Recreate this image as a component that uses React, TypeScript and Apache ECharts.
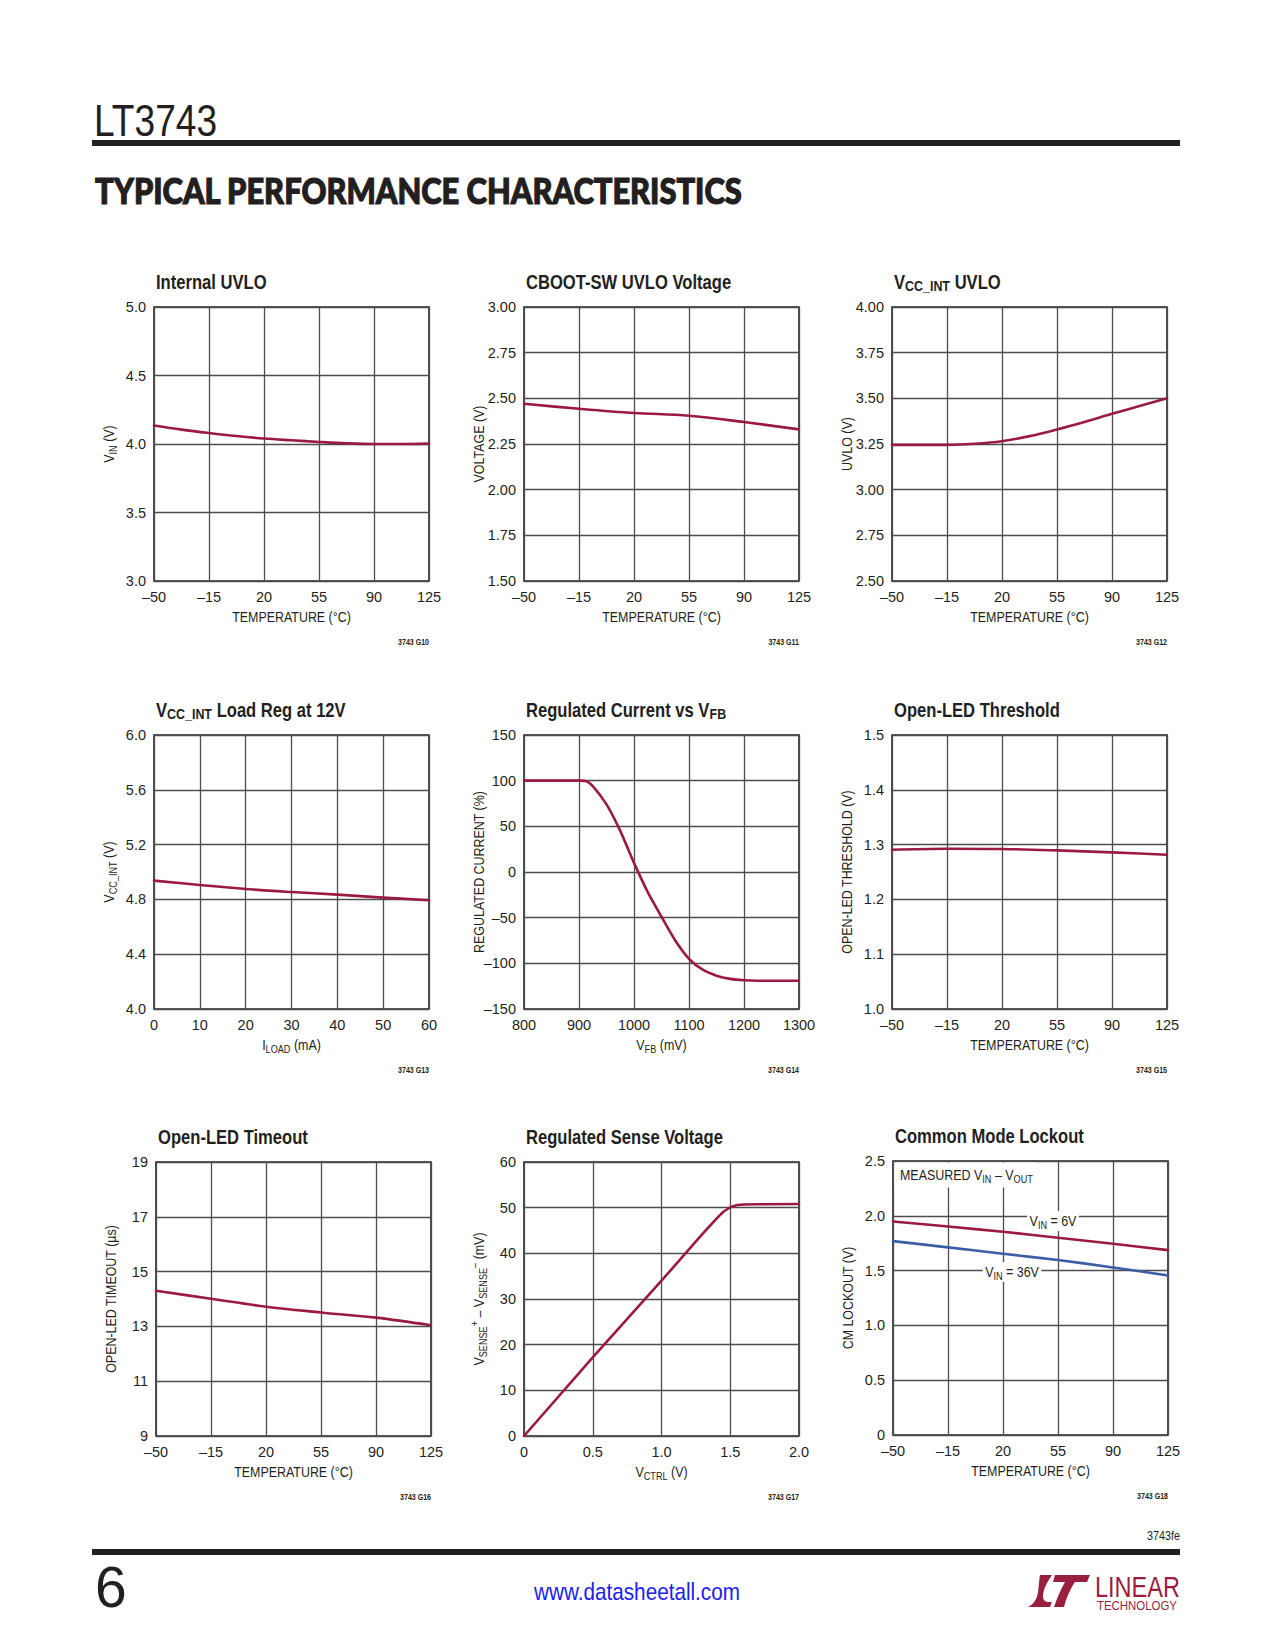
import React, { useEffect, useRef } from 'react';
import * as echarts from 'echarts';

// ---------------- data ----------------
const uvloTemp = [-50, -32.5, -15, 2.5, 20, 37.5, 55, 72.5, 90, 107.5, 125];
const uvloVin = [4.135, 4.105, 4.08, 4.058, 4.04, 4.027, 4.015, 4.005, 4.0, 4.0, 4.003];

const cbootTemp = [-50, -15, 20, 55, 90, 125];
const cbootV = [2.47, 2.443, 2.42, 2.405, 2.37, 2.33];

const vccUvloTemp = [-50, -32.5, -15, 2.5, 20, 37.5, 55, 72.5, 90, 107.5, 125];
const vccUvloV = [3.245, 3.245, 3.245, 3.251, 3.265, 3.293, 3.33, 3.371, 3.415, 3.458, 3.5];

const loadCurrent = [0, 10, 20, 30, 40, 50, 60];
const loadVcc = [4.937, 4.905, 4.876, 4.854, 4.835, 4.813, 4.794];

const vfbMv = [800, 825, 850, 875, 900, 912, 925, 950, 975, 1000, 1025, 1050, 1075, 1100, 1125, 1150, 1175, 1200, 1225, 1250, 1275, 1300];
const regCurrent = [100, 100, 100, 100, 100, 99.6, 94, 74, 45, 10, -22, -49, -75, -95, -107, -113.5, -117, -118.5, -119, -119, -119, -119];

const openLedTemp = [-50, -15, 20, 55, 90, 125];
const openLedThr = [1.2907, 1.2925, 1.292, 1.2894, 1.2858, 1.2816];

const timeoutTemp = [-50, -15, 20, 55, 90, 125];
const timeoutUs = [14.3, 14.01, 13.72, 13.51, 13.32, 13.04];

const vctrl = [0, 0.5, 1.0, 1.3, 1.4, 1.45, 1.5, 1.55, 1.6, 1.7, 2.0];
const vsense = [0, 17.2, 34.0, 44.3, 47.6, 49.1, 50.1, 50.6, 50.7, 50.75, 50.8];

const cmTemp = [-50, -15, 20, 55, 90, 125];
const cmVin6 = [1.948, 1.902, 1.854, 1.8, 1.745, 1.687];
const cmVin36 = [1.769, 1.712, 1.654, 1.596, 1.529, 1.456];

const figIds = ['3743 G10', '3743 G11', '3743 G12', '3743 G13', '3743 G14', '3743 G15', '3743 G16', '3743 G17', '3743 G18'];

// ---------------- style / layout ----------------
const SANS = '"Liberation Sans", Arial, Helvetica, sans-serif';
const COND = 0.83;
const INK = '#231f20';
const RED = '#9b1b3e';
const BLUE = '#3d5da7';
const GRID_COLOR = '#4d4d4d';
const PW = 275;
const PH = 274;
const GRIDS: number[][] = [
  [154, 307], [524, 307], [892, 307],
  [154, 735], [524, 735], [892, 735],
  [156, 1162], [524, 1162], [893, 1161],
];
const TEMP_OFFSET = 50;

const fmtSigned = (n: number) => (n < 0 ? '\u2013' + Math.abs(n) : String(Math.round(n * 1000) / 1000));

const nameRich = {
  a: { fontFamily: SANS, fontSize: 15, fill: INK, color: INK, lineHeight: 20 },
  s: { fontFamily: SANS, fontSize: 11, fill: INK, color: INK, lineHeight: 11, verticalAlign: 'bottom' },
  p: { fontFamily: SANS, fontSize: 11, fill: INK, color: INK, lineHeight: 11, verticalAlign: 'top' },
};

const titleRich = {
  b: { fontFamily: SANS, fontSize: 20, fontWeight: 'bold', fill: INK, color: INK, lineHeight: 24 },
  s: { fontFamily: SANS, fontSize: 15, fontWeight: 'bold', fill: INK, color: INK, lineHeight: 14, verticalAlign: 'bottom' },
};

const titles = [
  '{b|Internal UVLO}',
  '{b|CBOOT-SW UVLO Voltage}',
  '{b|V}{s|CC_INT}{b| UVLO}',
  '{b|V}{s|CC_INT}{b| Load Reg at 12V}',
  '{b|Regulated Current vs V}{s|FB}',
  '{b|Open-LED Threshold}',
  '{b|Open-LED Timeout}',
  '{b|Regulated Sense Voltage}',
  '{b|Common Mode Lockout}',
];

const yNames = [
  '{a|V}{s|IN}{a| (V)}',
  '{a|VOLTAGE (V)}',
  '{a|UVLO (V)}',
  '{a|V}{s|CC_INT}{a| (V)}',
  '{a|REGULATED CURRENT (%)}',
  '{a|OPEN-LED THRESHOLD (V)}',
  '{a|OPEN-LED TIMEOUT (\u00b5s)}',
  '{a|V}{s|SENSE}{p|+}{a| \u2013 V}{s|SENSE}{p|\u2013}{a| (mV)}',
  '{a|CM LOCKOUT (V)}',
];

const TEMP_NAME = '{a|TEMPERATURE (\u00b0C)}';
const xNames = [
  TEMP_NAME, TEMP_NAME, TEMP_NAME,
  '{a|I}{s|LOAD}{a| (mA)}',
  '{a|V}{s|FB}{a| (mV)}',
  TEMP_NAME, TEMP_NAME,
  '{a|V}{s|CTRL}{a| (V)}',
  TEMP_NAME,
];

const tickLabel = { color: INK, fontFamily: SANS, fontSize: 14.5, margin: 8, showMinLabel: true, showMaxLabel: true };

function makeAxis(i: number, cfg: any) {
  return {
    type: 'value',
    gridIndex: i,
    min: cfg.min,
    max: cfg.max,
    interval: cfg.interval,
    axisLine: { show: false },
    axisTick: { show: false },
    splitLine: { show: true, lineStyle: { color: GRID_COLOR, width: 1.3 } },
    axisLabel: { ...tickLabel, formatter: cfg.fmt },
  };
}

const tempAxisCfg = { min: 0, max: 175, interval: 35, fmt: (v: number) => fmtSigned(v - TEMP_OFFSET) };

function line(i: number, xs: number[], ys: number[], color: string, xOff = 0, yOff = 0, extra: any = {}) {
  return {
    type: 'line',
    xAxisIndex: i,
    yAxisIndex: i,
    data: xs.map((x, k) => [x + xOff, ys[k] + yOff]),
    showSymbol: false,
    smooth: 0.35,
    silent: true,
    lineStyle: { color, width: 2.6, join: 'round', cap: 'round' },
    itemStyle: { color },
    ...extra,
  };
}

function measureScale(text: string, font: string, width: number) {
  const ctx = document.createElement('canvas').getContext('2d');
  if (!ctx) return 1;
  ctx.font = font;
  const w = ctx.measureText(text).width;
  return w > 0 ? width / w : 1;
}

const LOGO_D =
  'M12,0 L24,0 C19,7 15,15 15,21 C15,25 17,27 21,27 L24,27 L22,32 L0,32 C6,29 9,24 10,17 C11,10 11,5 12,0 Z ' +
  'M27,0 L62,0 L59,7 L47,7 C42,14 38,24 36,32 L26,32 C29,23 33,14 37,7 L25,7 Z';

let logoRegistered = false;

export default function App() {
  const ref = useRef<HTMLDivElement>(null);

  useEffect(() => {
    if (!ref.current) return;
    if (!logoRegistered) {
      echarts.graphic.registerShape('ltlogo', echarts.graphic.extendPath(LOGO_D, {}) as any);
      logoRegistered = true;
    }
    const chart = echarts.init(ref.current, null, { renderer: 'svg', width: 1275, height: 1650 });

    const xCfgs = [
      tempAxisCfg, tempAxisCfg, tempAxisCfg,
      { min: 0, max: 60, interval: 10, fmt: (v: number) => String(v) },
      { min: 800, max: 1300, interval: 100, fmt: (v: number) => String(v) },
      tempAxisCfg, tempAxisCfg,
      { min: 0, max: 2, interval: 0.5, fmt: (v: number) => (v === 0 ? '0' : v.toFixed(1)) },
      tempAxisCfg,
    ];
    const yCfgs = [
      { min: 3, max: 5, interval: 0.5, fmt: (v: number) => v.toFixed(1) },
      { min: 1.5, max: 3, interval: 0.25, fmt: (v: number) => v.toFixed(2) },
      { min: 2.5, max: 4, interval: 0.25, fmt: (v: number) => v.toFixed(2) },
      { min: 4, max: 6, interval: 0.4, fmt: (v: number) => v.toFixed(1) },
      { min: -150, max: 150, interval: 50, fmt: (v: number) => fmtSigned(v) },
      { min: 1.0, max: 1.5, interval: 0.1, fmt: (v: number) => v.toFixed(1) },
      { min: 0, max: 10, interval: 2, fmt: (v: number) => String(Math.round(v + 9)) },
      { min: 0, max: 60, interval: 10, fmt: (v: number) => String(v) },
      { min: 0, max: 2.5, interval: 0.5, fmt: (v: number) => (v === 0 ? '0' : v.toFixed(1)) },
    ];

    const grid = GRIDS.map(([l, t]) => ({
      left: l, top: t, width: PW, height: PH,
      show: true, borderColor: INK, borderWidth: 1.6, backgroundColor: 'transparent',
      containLabel: false,
    }));

    const series = [
      line(0, uvloTemp, uvloVin, RED, TEMP_OFFSET),
      line(1, cbootTemp, cbootV, RED, TEMP_OFFSET),
      line(2, vccUvloTemp, vccUvloV, RED, TEMP_OFFSET),
      line(3, loadCurrent, loadVcc, RED),
      line(4, vfbMv, regCurrent, RED, 0, 0, { smooth: 0.25 }),
      line(5, openLedTemp, openLedThr, RED, TEMP_OFFSET),
      line(6, timeoutTemp, timeoutUs, RED, TEMP_OFFSET, -9),
      line(7, vctrl, vsense, RED, 0, 0, { smooth: false }),
      line(8, cmTemp, cmVin6, RED, TEMP_OFFSET),
      line(8, cmTemp, cmVin36, BLUE, TEMP_OFFSET),
    ];

    const headTitle = 'TYPICAL PERFORMANCE CHARACTERISTICS';
    const headScale = measureScale(headTitle, '900 37px Lato', 648);
    const ltScale = measureScale('LT3743', '44px "Liberation Sans"', 123);
    const linearScale = measureScale('LINEAR', '30px "Liberation Sans"', 85);
    const techScale = measureScale('TECHNOLOGY', '12px "Liberation Sans"', 80);
    const urlScale = measureScale('www.datasheetall.com', '24px "Liberation Sans"', 206);

    const elements: any[] = [
      // header
      { type: 'text', x: 94, y: 121, scaleX: ltScale, style: { text: 'LT3743', fontFamily: SANS, fontSize: 44, fill: INK, align: 'left', verticalAlign: 'middle' } },
      { type: 'rect', shape: { x: 92, y: 140, width: 1088, height: 6 }, style: { fill: INK } },
      { type: 'text', x: 95, y: 189, scaleX: headScale, style: { text: headTitle, fontFamily: 'Lato', fontWeight: 900, fontSize: 37, fill: INK, stroke: INK, lineWidth: 1.2, align: 'left', verticalAlign: 'middle' } },
      // footer
      { type: 'text', x: 1180, y: 1536, scaleX: COND, style: { text: '3743fe', fontFamily: SANS, fontSize: 13, fill: INK, align: 'right', verticalAlign: 'middle' } },
      { type: 'rect', shape: { x: 92, y: 1549, width: 1088, height: 6 }, style: { fill: INK } },
      { type: 'text', x: 95, y: 1587, style: { text: '6', fontFamily: SANS, fontSize: 57, fill: INK, align: 'left', verticalAlign: 'middle' } },
      { type: 'text', x: 637, y: 1592, scaleX: urlScale, style: { text: 'www.datasheetall.com', fontFamily: SANS, fontSize: 24, fill: '#2020f0', align: 'center', verticalAlign: 'middle' } },
      { type: 'ltlogo', x: 1028, y: 1575, scaleX: 1, scaleY: 1, style: { fill: '#9a1f3f' } },
      { type: 'text', x: 1095, y: 1587, scaleX: linearScale, style: { text: 'LINEAR', fontFamily: SANS, fontSize: 30, fill: '#9a1f3f', align: 'left', verticalAlign: 'middle' } },
      { type: 'text', x: 1097, y: 1605, scaleX: techScale, style: { text: 'TECHNOLOGY', fontFamily: SANS, fontSize: 12, fill: '#9a1f3f', align: 'left', verticalAlign: 'middle' } },
    ];

    GRIDS.forEach(([l, t], i) => {
      elements.push({
        type: 'text', x: l + 2, y: t - 25, scaleX: COND,
        style: { text: titles[i], rich: titleRich, align: 'left', verticalAlign: 'middle', fill: INK },
      });
      elements.push({
        type: 'text', x: l + PW, y: t + PH + 61, scaleX: COND,
        style: { text: figIds[i], fontFamily: SANS, fontSize: 8.5, fontWeight: 'bold', fill: INK, align: 'right', verticalAlign: 'middle' },
      });
      // x axis title
      elements.push({
        type: 'text', x: l + PW / 2, y: t + PH + 36, scaleX: COND,
        style: { text: xNames[i], rich: nameRich, align: 'center', verticalAlign: 'middle', fill: INK },
      });
      // y axis title
      elements.push({
        type: 'text', x: l - 45, y: t + PH / 2, rotation: Math.PI / 2, scaleX: COND,
        style: { text: yNames[i], rich: nameRich, align: 'center', verticalAlign: 'middle', fill: INK },
      });
    });

    // common mode lockout annotations
    const [cl, ct] = GRIDS[8];
    elements.push({ type: 'rect', z: 1, shape: { x: cl + 1.5, y: ct + 1.5, width: 142, height: 25 }, style: { fill: '#ffffff' } });
    elements.push({ type: 'text', z: 3, x: cl + 7, y: ct + 14, scaleX: COND, style: { text: '{a|MEASURED V}{s|IN}{a| \u2013 V}{s|OUT}', rich: nameRich, align: 'left', verticalAlign: 'middle', fill: INK } });
    elements.push({ type: 'text', z: 3, x: cl + 160, y: ct + 60, scaleX: COND, style: { text: '{a|V}{s|IN}{a| = 6V}', rich: nameRich, align: 'center', verticalAlign: 'middle', fill: INK, backgroundColor: '#ffffff', padding: [0, 3, 0, 3] } });
    elements.push({ type: 'text', z: 3, x: cl + 119, y: ct + 111, scaleX: COND, style: { text: '{a|V}{s|IN}{a| = 36V}', rich: nameRich, align: 'center', verticalAlign: 'middle', fill: INK, backgroundColor: '#ffffff', padding: [0, 3, 0, 3] } });

    chart.setOption({
      animation: false,
      backgroundColor: '#ffffff',
      grid,
      xAxis: xCfgs.map((c, i) => makeAxis(i, c)),
      yAxis: yCfgs.map((c, i) => makeAxis(i, c)),
      series,
      graphic: { elements },
    });

    return () => chart.dispose();
  }, []);

  return <div ref={ref} style={{ position: 'absolute', left: 0, top: 0, width: 1275, height: 1650 }} />;
}
